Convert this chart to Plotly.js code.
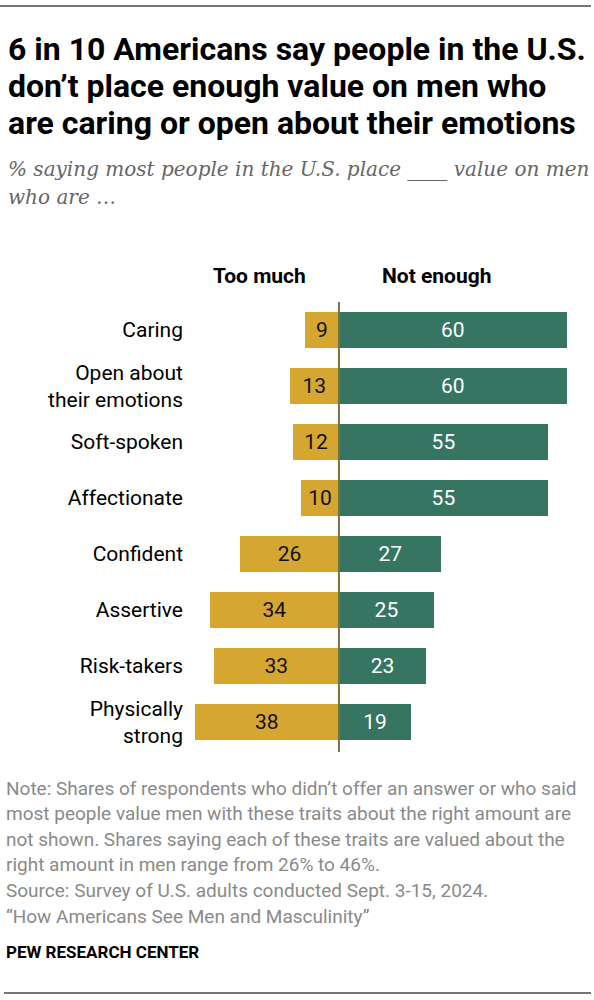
<!DOCTYPE html>
<html>
<head>
<meta charset="utf-8">
<script src="https://cdn.plot.ly/plotly-3.0.1.min.js"></script>
<style>
html,body{margin:0;padding:0;background:#fff;}
#chart{width:594px;height:1000px;}
</style>
</head>
<body>
<div id="chart"></div>
<script>
// ---- data ----
const categories = ["Caring", "Open about<br>their emotions", "Soft-spoken", "Affectionate", "Confident", "Assertive", "Risk-takers", "Physically<br>strong"];
const tooMuch = [9, 13, 12, 10, 26, 34, 33, 38];
const notEnough = [60, 60, 55, 55, 27, 25, 23, 19];
const seriesNames = ["Too much", "Not enough"];

const titleLines = [
  "6 in 10 Americans say people in the U.S.",
  "don\u2019t place enough value on men who",
  "are caring or open about their emotions"
];
const subtitleLines = [
  "% saying most people in the U.S. place ____ value on men",
  "who are \u2026"
];
const noteLines = [
  "Note: Shares of respondents who didn\u2019t offer an answer or who said",
  "most people value men with these traits about the right amount are",
  "not shown. Shares saying each of these traits are valued about the",
  "right amount in men range from 26% to 46%.",
  "Source: Survey of U.S. adults conducted Sept. 3-15, 2024.",
  "\u201cHow Americans See Men and Masculinity\u201d"
];
const sourceLabel = "PEW RESEARCH CENTER";

// ---- layout geometry ----
const W = 594, H = 1000;
const M = {l: 187, r: 12, t: 302, b: 250};
const PW = W - M.l - M.r, PH = H - M.t - M.b;
const px = x => (x - M.l) / PW;
const py = y => (H - M.b - y) / PH;

const GOLD = "#D6A730";
const GREEN = "#367561";
const FONT = "Roboto, 'Liberation Sans', sans-serif";

const traces = [
  {
    type: "bar", orientation: "h", name: seriesNames[0],
    y: categories, x: tooMuch.map(v => -v),
    text: tooMuch.map(String), textposition: "inside", insidetextanchor: "middle",
    constraintext: "none",
    textfont: {family: FONT, size: 21, color: "#111"},
    marker: {color: GOLD}, width: 0.66, hoverinfo: "skip"
  },
  {
    type: "bar", orientation: "h", name: seriesNames[1],
    y: categories, x: notEnough,
    text: notEnough.map(String), textposition: "inside", insidetextanchor: "middle",
    constraintext: "none",
    textfont: {family: FONT, size: 21, color: "#fff"},
    marker: {color: GREEN}, width: 0.66, hoverinfo: "skip"
  }
];

const annotations = [];
const titleY = [49, 86, 123];
titleLines.forEach((t, i) => annotations.push({
  xref: "paper", yref: "paper", x: px(6), y: py(titleY[i]), xanchor: "left", yanchor: "middle",
  text: "<b>" + t + "</b>", showarrow: false,
  font: {family: FONT, size: 32, color: "#000"}
}));
const subY = [169, 197];
subtitleLines.forEach((t, i) => annotations.push({
  xref: "paper", yref: "paper", x: px(6), y: py(subY[i]), xanchor: "left", yanchor: "middle",
  text: "<i>" + t + "</i>", showarrow: false,
  font: {family: "'DejaVu Serif', Georgia, serif", size: 20, color: "#666"}
}));
annotations.push({xref: "x", yref: "paper", x: -20.8, y: py(276), xanchor: "center", yanchor: "middle",
  text: "<b>" + seriesNames[0] + "</b>", showarrow: false, font: {family: FONT, size: 21, color: "#000"}});
annotations.push({xref: "x", yref: "paper", x: 25.8, y: py(276), xanchor: "center", yanchor: "middle",
  text: "<b>" + seriesNames[1] + "</b>", showarrow: false, font: {family: FONT, size: 21, color: "#000"}});
const noteY0 = 788, noteDy = 25.6;
noteLines.forEach((t, i) => annotations.push({
  xref: "paper", yref: "paper", x: px(4), y: py(noteY0 + i * noteDy), xanchor: "left", yanchor: "middle",
  text: t, showarrow: false, font: {family: FONT, size: 19, color: "#8a8a8a"}
}));
annotations.push({xref: "paper", yref: "paper", x: px(4), y: py(952), xanchor: "left", yanchor: "middle",
  text: "<b>" + sourceLabel + "</b>", showarrow: false, font: {family: FONT, size: 17, color: "#000"}});

const shapes = [
  {type: "line", xref: "x", yref: "paper", x0: 0, x1: 0, y0: py(752), y1: 1, line: {color: "#7A7438", width: 2}, layer: "above"},
  {type: "line", xref: "paper", yref: "paper", x0: px(0), x1: px(591), y0: py(6), y1: py(6), line: {color: "#777", width: 2}},
  {type: "line", xref: "paper", yref: "paper", x0: px(4), x1: px(591), y0: py(993), y1: py(993), line: {color: "#777", width: 2}}
];

const layout = {
  width: W, height: H,
  margin: M,
  paper_bgcolor: "#fff", plot_bgcolor: "#fff",
  showlegend: false,
  barmode: "relative",
  bargap: 0,
  xaxis: {range: [-40, 64], showgrid: false, zeroline: false, showticklabels: false, ticks: "", fixedrange: true},
  yaxis: {type: "category", autorange: false, range: [7.5, -0.5], showgrid: false, zeroline: false,
    ticks: "", ticklabelstandoff: 3, tickfont: {family: FONT, size: 21, color: "#000"}, fixedrange: true},
  annotations: annotations,
  shapes: shapes,
  font: {family: FONT}
};

Plotly.newPlot("chart", traces, layout, {displayModeBar: false, staticPlot: true});
</script>
</body>
</html>
